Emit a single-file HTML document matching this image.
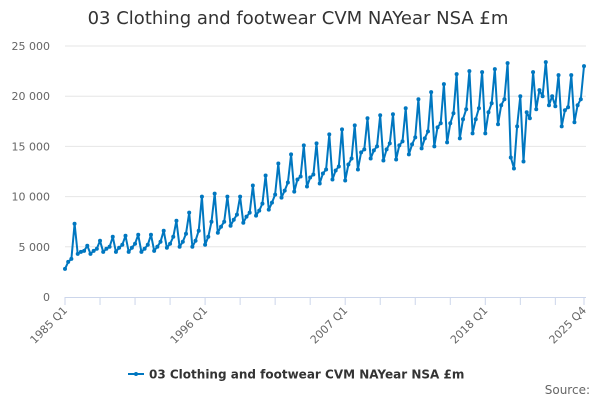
<!DOCTYPE html>
<html><head><meta charset="utf-8"><style>
body{margin:0;background:#fff;}
svg{display:block;font-family:"DejaVu Sans","Liberation Sans",sans-serif;}
</style></head><body>
<svg id="chart" width="600" height="400" viewBox="0 0 600 400">
<text x="298" y="24" text-anchor="middle" font-size="18" fill="#333">03 Clothing and footwear CVM NAYear NSA £m</text>
<g id="grid"></g>
<g id="yax"></g>
<g id="xax"></g>
<g id="series"></g>
<g>
<line x1="128" y1="374" x2="144" y2="374" stroke="#0077c0" stroke-width="2"/>
<circle cx="136" cy="374" r="2" fill="#0077c0"/>
<text x="149" y="378.5" font-size="12" font-weight="bold" fill="#333">03 Clothing and footwear CVM NAYear NSA £m</text>
</g>
<text x="590" y="394" text-anchor="end" font-size="12" fill="#666">Source:</text>
</svg>
<script>
const startYear = 1985;
const endYear = 2025;
const xTickLabels = ["1985 Q1","1996 Q1","2007 Q1","2018 Q1","2025 Q4"];
const yTicks = [0,5000,10000,15000,20000,25000];
const values = [
2.8,3.5,3.8,7.3, 4.3,4.5,4.6,5.1, 4.3,4.6,4.8,5.6, 4.5,4.8,5.0,6.0,
4.5,4.9,5.2,6.1, 4.5,4.9,5.3,6.2, 4.5,4.8,5.2,6.2, 4.6,5.0,5.5,6.6,
4.9,5.3,6.0,7.6, 5.0,5.5,6.3,8.4, 5.0,5.6,6.6,10.0, 5.2,6.0,7.5,10.3,
6.4,7.0,7.5,10.0, 7.1,7.7,8.2,10.0, 7.4,8.0,8.4,11.1, 8.1,8.6,9.3,12.1,
8.7,9.4,10.2,13.3, 9.9,10.6,11.4,14.2, 10.5,11.7,12.0,15.1, 11.0,11.9,12.2,15.3,
11.3,12.3,12.7,16.2, 11.7,12.6,13.0,16.7, 11.6,13.2,13.8,17.1, 12.7,14.4,14.7,17.8,
13.8,14.6,15.0,18.1, 13.6,14.7,15.3,18.2, 13.7,15.1,15.5,18.8, 14.2,15.2,15.9,19.7,
14.8,15.8,16.5,20.4, 15.0,16.9,17.3,21.2, 15.4,17.3,18.3,22.2, 15.8,17.7,18.7,22.5,
16.3,17.7,18.8,22.4, 16.3,18.4,19.3,22.7, 17.2,19.1,19.7,23.3, 13.9,12.8,17.0,20.0,
13.5,18.4,17.8,22.4, 18.7,20.6,20.0,23.4, 19.1,20.0,19.0,22.1, 17.0,18.6,18.9,22.1,
17.4,19.1,19.7,23.0
].map(v=>v*1000);
const NS="http://www.w3.org/2000/svg";
const x0=65,x1=584,y0=297,yTop=46,ymax=25000;
const n=values.length;
function xs(i){return x0+(x1-x0)*i/(n-1);}
function ys(v){return y0-(y0-yTop)*v/ymax;}
function mk(t,a,p){const e=document.createElementNS(NS,t);for(const k in a)e.setAttribute(k,a[k]);p.appendChild(e);return e;}
const grid=document.getElementById('grid'),yax=document.getElementById('yax'),xax=document.getElementById('xax'),ser=document.getElementById('series');
yTicks.forEach(v=>{
 if(v>0){const l=mk('line',{x1:x0,x2:586,y1:ys(v),y2:ys(v),stroke:'#e6e6e6','stroke-width':1},grid);
 
 }
 const t=mk('text',{x:50,y:ys(v)+4,'text-anchor':'end','font-size':11,fill:'#666'},yax);
 t.textContent=v===0?'0':(v/1000)+' 000';
 
 
});
mk('line',{x1:x0,x2:586,y1:y0+0.5,y2:y0+0.5,stroke:'#ccd6eb','stroke-width':1},xax);
for(let i=0;i<n;i+=11){mk('line',{x1:xs(i),x2:xs(i),y1:y0,y2:y0+8,stroke:'#ccd6eb'},xax);}
mk('line',{x1:xs(n-1),x2:xs(n-1),y1:y0,y2:y0+8,stroke:'#ccd6eb'},xax);
xTickLabels.forEach(lbl=>{
 const [yr,q]=lbl.split(' Q');const i=(+yr-startYear)*4+(+q-1);
 const x=xs(i)+3,y=y0+14;
 const t=mk('text',{x:x,y:y,'text-anchor':'end','font-size':11,fill:'#666',transform:`rotate(-45 ${x} ${y})`},xax);
 t.textContent=lbl;
 
 
});
const pts=values.map((v,i)=>xs(i).toFixed(1)+','+ys(v).toFixed(1)).join(' ');
const pl=mk('polyline',{points:pts,fill:'none',stroke:'#0077c0','stroke-width':2,'stroke-linejoin':'round'},ser);


values.forEach((v,i)=>{const c=mk('circle',{cx:xs(i),cy:ys(v),r:2,fill:'#0077c0'},ser);
 
 });
</script>
</body></html>
